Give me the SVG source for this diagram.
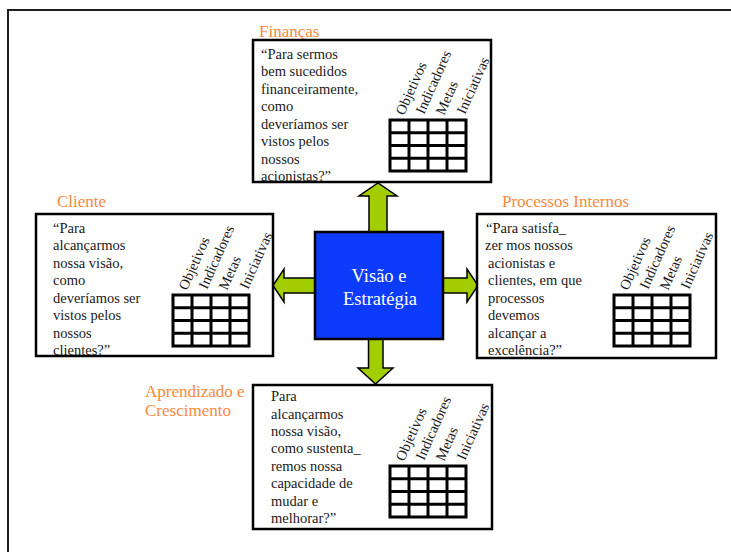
<svg xmlns="http://www.w3.org/2000/svg" xmlns:xlink="http://www.w3.org/1999/xlink" width="731" height="552" viewBox="0 0 731 552">
  <style>
    .frame { fill: none; stroke: #1e1e1e; stroke-width: 2; }
    .panel { fill: #ffffff; stroke: #000000; stroke-width: 2.5; }
    .title { font-family: "Liberation Serif", "Times New Roman", serif; font-size: 17px; fill: #f7893e; }
    .body { font-family: "Liberation Serif", "Times New Roman", serif; font-size: 14.5px; fill: #1a1a1a; }
    .col { font-family: "Liberation Serif", "Times New Roman", serif; font-size: 14.5px; fill: #1a1a1a; }
    .grid { fill: #ffffff; stroke: #000000; stroke-width: 3; }
    .gline { stroke: #000000; stroke-width: 3; }
    .arrow { fill: #a2cd00; stroke: #000000; stroke-width: 1.5; stroke-linejoin: miter; }
    .core { fill: #0d3bfb; stroke: #000000; stroke-width: 2.5; }
    .coretext { font-family: "Liberation Serif", "Times New Roman", serif; font-size: 18.5px; fill: #ffffff; text-anchor: middle; }
  </style>
  <defs>
    <!-- 4x4 scorecard table with slanted column headings; origin = table top-left -->
    <g id="scorecard">
      <rect class="grid" x="0" y="0" width="76" height="51"/>
      <line class="gline" x1="19" y1="0" x2="19" y2="51"/>
      <line class="gline" x1="38" y1="0" x2="38" y2="51"/>
      <line class="gline" x1="57" y1="0" x2="57" y2="51"/>
      <line class="gline" x1="0" y1="12.75" x2="76" y2="12.75"/>
      <line class="gline" x1="0" y1="25.5" x2="76" y2="25.5"/>
      <line class="gline" x1="0" y1="38.25" x2="76" y2="38.25"/>
      <text class="col" transform="translate(14,-4) rotate(-66)">Objetivos</text>
      <text class="col" transform="translate(34,-5) rotate(-66)">Indicadores</text>
      <text class="col" transform="translate(54,-4) rotate(-66)">Metas</text>
      <text class="col" transform="translate(75,-5) rotate(-66)">Iniciativas</text>
    </g>
  </defs>

  <!-- page frame -->
  <path class="frame" d="M8,552 V10 H731"/>

  <!-- connectors: arrows from the central square -->
  <g id="connectors">
    <polygon class="arrow" points="369,233 369,196 359,196 378,183 397,196 387,196 387,233"/>
    <polygon class="arrow" points="368.5,338 368.5,368 358,368 375.5,384 393,368 383,368 383,338"/>
    <polygon class="arrow" points="316,278 284,278 284,269 273,285.5 284,302 284,293 316,293"/>
    <polygon class="arrow" points="442,278 467,278 467,269 478,285.5 467,302 467,293 442,293"/>
  </g>

  <!-- central node -->
  <g id="visao">
    <rect class="core" x="315" y="232" width="128" height="107"/>
    <text class="coretext" x="379" y="282">Visão e</text>
    <text class="coretext" x="380" y="305">Estratégia</text>
  </g>

  <!-- Finanças -->
  <g id="financas">
    <text class="title" x="259" y="37">Finanças</text>
    <rect class="panel" x="253" y="40" width="238" height="142"/>
    <text class="body" x="261">
      <tspan x="261" y="58.5">“Para sermos</tspan>
      <tspan x="261" y="76">bem sucedidos</tspan>
      <tspan x="261" y="93.5">financeiramente,</tspan>
      <tspan x="261" y="111">como</tspan>
      <tspan x="261" y="128.5">deveríamos ser</tspan>
      <tspan x="261" y="146">vistos pelos</tspan>
      <tspan x="261" y="163.5">nossos</tspan>
      <tspan x="261" y="181">acionistas?”</tspan>
    </text>
    <use xlink:href="#scorecard" transform="translate(390,120)"/>
  </g>

  <!-- Cliente -->
  <g id="cliente">
    <text class="title" x="57" y="207">Cliente</text>
    <rect class="panel" x="36" y="214" width="237" height="142"/>
    <text class="body">
      <tspan x="53" y="232.8">“Para</tspan>
      <tspan x="53" y="250.3">alcançarmos</tspan>
      <tspan x="53" y="267.8">nossa visão,</tspan>
      <tspan x="53" y="285.3">como</tspan>
      <tspan x="53" y="302.8">deveríamos ser</tspan>
      <tspan x="53" y="320.3">vistos pelos</tspan>
      <tspan x="53" y="337.8">nossos</tspan>
      <tspan x="53" y="355.3">clientes?”</tspan>
    </text>
    <use xlink:href="#scorecard" transform="translate(173,295)"/>
  </g>

  <!-- Processos Internos -->
  <g id="processos">
    <text class="title" x="502" y="207">Processos Internos</text>
    <rect class="panel" x="477" y="214" width="239" height="144"/>
    <text class="body">
      <tspan x="486" y="232.8">“Para satisfa_</tspan>
      <tspan x="485" y="250.3">zer mos nossos</tspan>
      <tspan x="488" y="267.8">acionistas e</tspan>
      <tspan x="488" y="285.3">clientes, em que</tspan>
      <tspan x="488" y="302.8">processos</tspan>
      <tspan x="488" y="320.3">devemos</tspan>
      <tspan x="488" y="337.8">alcançar a</tspan>
      <tspan x="488" y="355.3">excelência?”</tspan>
    </text>
    <use xlink:href="#scorecard" transform="translate(614,295)"/>
  </g>

  <!-- Aprendizado e Crescimento -->
  <g id="aprendizado">
    <text class="title">
      <tspan x="145" y="396.5">Aprendizado e</tspan>
      <tspan x="145" y="415.5">Crescimento</tspan>
    </text>
    <rect class="panel" x="253" y="385" width="239" height="144"/>
    <text class="body">
      <tspan x="271" y="401.2">Para</tspan>
      <tspan x="271" y="418.6">alcançarmos</tspan>
      <tspan x="271" y="436">nossa visão,</tspan>
      <tspan x="271" y="453.4">como sustenta_</tspan>
      <tspan x="271" y="470.8">remos nossa</tspan>
      <tspan x="271" y="488.2">capacidade de</tspan>
      <tspan x="271" y="505.6">mudar e</tspan>
      <tspan x="271" y="523">melhorar?”</tspan>
    </text>
    <use xlink:href="#scorecard" transform="translate(390,466)"/>
  </g>
</svg>
